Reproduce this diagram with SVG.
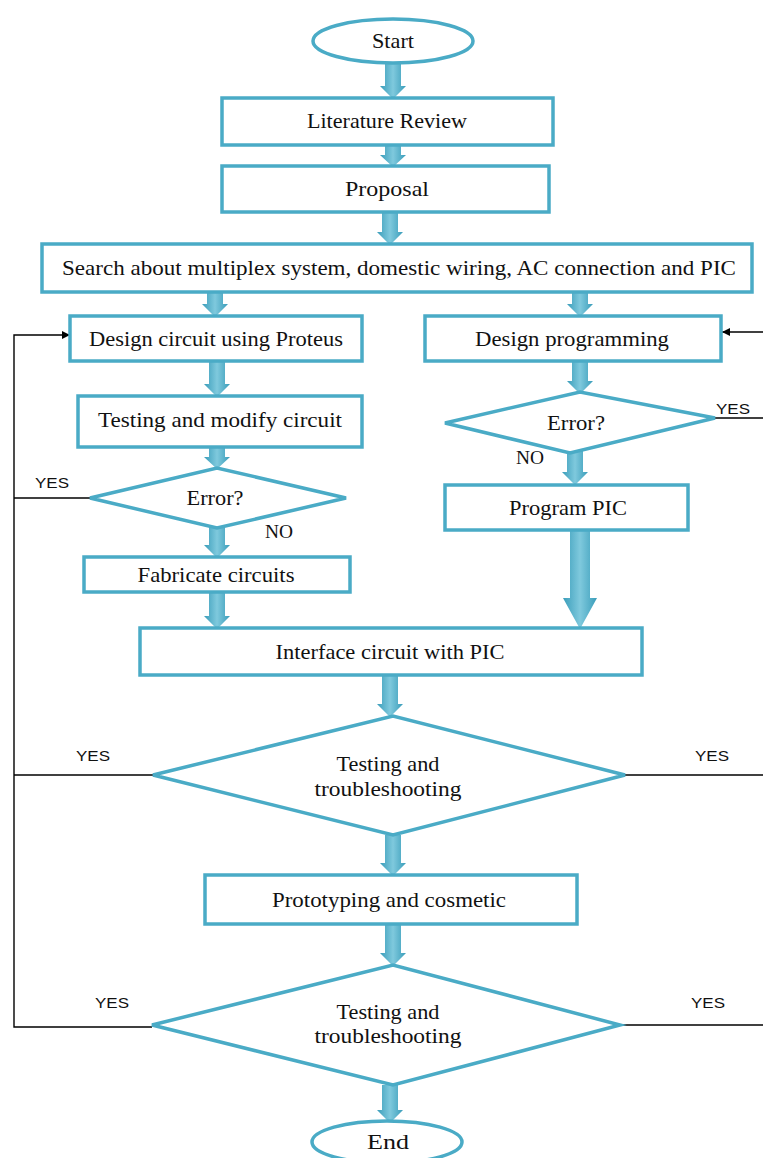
<svg xmlns="http://www.w3.org/2000/svg" width="763" height="1158" viewBox="0 0 763 1158">
<defs>
<linearGradient id="ag" x1="0" y1="0" x2="1" y2="0">
<stop offset="0" stop-color="#3a9dba"/>
<stop offset="0.5" stop-color="#7fc9dd"/>
<stop offset="1" stop-color="#3a9dba"/>
</linearGradient>
<marker id="ah" viewBox="0 0 10 10" refX="10" refY="5" markerWidth="9" markerHeight="8" markerUnits="userSpaceOnUse" orient="auto">
<path d="M0,0 L10,5 L0,10 Z" fill="#000"/>
</marker>
<style>
.n{fill:#fff;stroke:#4aabc6;stroke-width:3.5}
.t{font-family:"Liberation Serif","Times New Roman",serif;font-size:21px;fill:#111;text-anchor:middle}
.s{font-size:18px}
.l{font-family:"Liberation Sans",Arial,sans-serif;font-size:15px;fill:#111;text-anchor:middle}
.ba{fill:url(#ag);stroke:none}
.fb{fill:none;stroke:#000;stroke-width:1.4}
</style>
</defs>
<rect width="763" height="1158" fill="#fff"/>

<g id="connectors">
<path class="ba" d="M385,62 L401,62 L401,86 L406,86 L393,99 L380,86 L385,86 Z"/>
<path class="ba" d="M385,145 L401,145 L401,155 L406,155 L393,167 L380,155 L385,155 Z"/>
<path class="ba" d="M382,212 L398,212 L398,232 L403,232 L390,245 L377,232 L382,232 Z"/>
<path class="ba" d="M207,292 L223,292 L223,304 L228,304 L215,317 L202,304 L207,304 Z"/>
<path class="ba" d="M572,292 L588,292 L588,304 L593,304 L580,317 L567,304 L572,304 Z"/>
<path class="ba" d="M209,361 L225,361 L225,384 L230,384 L217,397 L204,384 L209,384 Z"/>
<path class="ba" d="M209,447 L225,447 L225,457 L230,457 L217,469 L204,457 L209,457 Z"/>
<path class="ba" d="M209,527 L225,527 L225,545 L230,545 L217,558 L204,545 L209,545 Z"/>
<path class="ba" d="M209,592 L225,592 L225,616 L230,616 L217,629 L204,616 L209,616 Z"/>
<path class="ba" d="M572,361 L588,361 L588,381 L593,381 L580,394 L567,381 L572,381 Z"/>
<path class="ba" d="M567,446 L583,446 L583,472 L588,472 L575,485 L562,472 L567,472 Z"/>
<path class="ba" d="M570,530 L590,530 L590,598 L597,598 L580,629 L563,598 L570,598 Z"/>
<path class="ba" d="M382,675 L398,675 L398,704 L403,704 L390,717 L377,704 L382,704 Z"/>
<path class="ba" d="M385,835 L401,835 L401,863 L406,863 L393,876 L380,863 L385,863 Z"/>
<path class="ba" d="M385,924 L401,924 L401,953 L406,953 L393,966 L380,953 L385,953 Z"/>
<path class="ba" d="M382,1085 L398,1085 L398,1110 L403,1110 L390,1123 L377,1110 L382,1110 Z"/>

<path class="fb" d="M90,498 L14,498"/>
<path class="fb" d="M153,775 L14,775"/>
<path class="fb" d="M152,1027 L14,1027 L14,335 L70,335" marker-end="url(#ah)"/>
<path class="fb" d="M715,418 L763,418"/>
<path class="fb" d="M625,775 L763,775"/>
<path class="fb" d="M620,1025 L763,1025"/>
<path class="fb" d="M763,332 L722,332" marker-end="url(#ah)"/>

<text class="l" x="52" y="488" textLength="34" lengthAdjust="spacingAndGlyphs">YES</text>
<text class="t s" x="279" y="538" textLength="28" lengthAdjust="spacingAndGlyphs">NO</text>
<text class="l" x="733" y="414" textLength="34" lengthAdjust="spacingAndGlyphs">YES</text>
<text class="t s" x="530" y="464" textLength="28" lengthAdjust="spacingAndGlyphs">NO</text>
<text class="l" x="93" y="761" textLength="34" lengthAdjust="spacingAndGlyphs">YES</text>
<text class="l" x="712" y="761" textLength="34" lengthAdjust="spacingAndGlyphs">YES</text>
<text class="l" x="112" y="1008" textLength="34" lengthAdjust="spacingAndGlyphs">YES</text>
<text class="l" x="708" y="1008" textLength="34" lengthAdjust="spacingAndGlyphs">YES</text>
</g>

<g id="start"><ellipse class="n" cx="393" cy="41" rx="80" ry="22"/><text class="t" x="393" y="48" textLength="42" lengthAdjust="spacingAndGlyphs">Start</text></g>
<g id="literature"><rect class="n" x="222" y="98" width="331" height="47"/><text class="t" x="387" y="128" textLength="160" lengthAdjust="spacingAndGlyphs">Literature Review</text></g>
<g id="proposal"><rect class="n" x="222" y="166" width="327" height="46"/><text class="t" x="387" y="196" textLength="84" lengthAdjust="spacingAndGlyphs">Proposal</text></g>
<g id="search"><rect class="n" x="42" y="244" width="710" height="48"/><text class="t" x="399" y="275" textLength="674" lengthAdjust="spacingAndGlyphs">Search about multiplex system, domestic wiring, AC connection and PIC</text></g>
<g id="design-circuit"><rect class="n" x="70" y="316" width="292" height="45"/><text class="t" x="216" y="346" textLength="254" lengthAdjust="spacingAndGlyphs">Design circuit using Proteus</text></g>
<g id="testing-modify"><rect class="n" x="78" y="396" width="284" height="51"/><text class="t" x="220" y="427" textLength="244" lengthAdjust="spacingAndGlyphs">Testing and modify circuit</text></g>
<g id="error-left"><polygon class="n" points="90,498 217,468 346,498 217,528"/><text class="t" x="215" y="505" textLength="57" lengthAdjust="spacingAndGlyphs">Error?</text></g>
<g id="fabricate"><rect class="n" x="84" y="557" width="266" height="35"/><text class="t" x="216" y="582" textLength="157" lengthAdjust="spacingAndGlyphs">Fabricate circuits</text></g>
<g id="design-programming"><rect class="n" x="425" y="316" width="296" height="45"/><text class="t" x="572" y="346" textLength="194" lengthAdjust="spacingAndGlyphs">Design programming</text></g>
<g id="error-right"><polygon class="n" points="445,423 580,392 715,418 570,453"/><text class="t" x="576" y="430" textLength="58" lengthAdjust="spacingAndGlyphs">Error?</text></g>
<g id="program-pic"><rect class="n" x="445" y="485" width="243" height="45"/><text class="t" x="568" y="515" textLength="118" lengthAdjust="spacingAndGlyphs">Program PIC</text></g>
<g id="interface"><rect class="n" x="140" y="628" width="502" height="47"/><text class="t" x="390" y="659" textLength="229" lengthAdjust="spacingAndGlyphs">Interface circuit with PIC</text></g>
<g id="testing1"><polygon class="n" points="153,775 393,716 625,775 393,835"/><text class="t" x="388" y="771" textLength="103" lengthAdjust="spacingAndGlyphs">Testing and</text><text class="t" x="388" y="796" textLength="147" lengthAdjust="spacingAndGlyphs">troubleshooting</text></g>
<g id="prototyping"><rect class="n" x="205" y="875" width="372" height="49"/><text class="t" x="389" y="907" textLength="234" lengthAdjust="spacingAndGlyphs">Prototyping and cosmetic</text></g>
<g id="testing2"><polygon class="n" points="152,1025 393,965 620,1025 393,1085"/><text class="t" x="388" y="1019" textLength="103" lengthAdjust="spacingAndGlyphs">Testing and</text><text class="t" x="388" y="1043" textLength="147" lengthAdjust="spacingAndGlyphs">troubleshooting</text></g>
<g id="end"><ellipse class="n" cx="387" cy="1142" rx="75" ry="21"/><text class="t" x="388" y="1149" textLength="42" lengthAdjust="spacingAndGlyphs">End</text></g>
</svg>
